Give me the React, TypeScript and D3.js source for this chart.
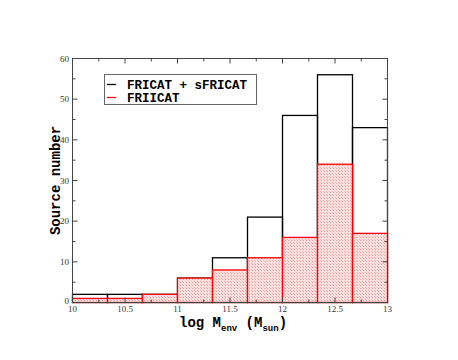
import * as d3 from "d3";

// bin edges (log M_env) and counts
const binEdges = [10, 10 + 1 / 3, 10 + 2 / 3, 11, 11 + 1 / 3, 11 + 2 / 3, 12, 12 + 1 / 3, 12 + 2 / 3, 13];
const fricatCounts = [2, 2, 2, 6, 11, 21, 46, 56, 43];
const friicatCounts = [1, 1, 2, 6, 8, 11, 16, 34, 17];
const xTicks = [10, 10.5, 11, 11.5, 12, 12.5, 13];
const yTicks = [0, 10, 20, 30, 40, 50, 60];
const legendNames = ["FRICAT + sFRICAT", "FRIICAT"];

const W = 458;
const H = 360;
const left = 72.5;
const right = 387.5;
const top = 58.5;
const bottom = 302.5;

export default function App() {
  const x = d3.scaleLinear().domain([10, 13]).range([left, right]);
  const y = d3.scaleLinear().domain([0, 60]).range([bottom, top]);

  const xMinor = d3.range(10, 13.001, 0.25);
  const yMinor = d3.range(0, 60.001, 5);

  const mono = "'Courier New', 'Liberation Mono', Courier, monospace";
  const serif = "'Liberation Serif', 'Times New Roman', serif";

  return (
    <svg width={W} height={H} style={{ position: "absolute", left: 0, top: 0, background: "#fff" }}>
      <defs>
        <pattern id="hatch" width="3" height="3" patternUnits="userSpaceOnUse">
          <rect width="3" height="3" fill="#fbe0e0" />
          <rect x="0" y="0" width="1" height="1" fill="#f19a9a" />
          <rect x="2" y="2" width="1" height="1" fill="#f5b3b3" />
        </pattern>
      </defs>

      {/* black histogram, outline only */}
      {fricatCounts.map((v, i) => (
        <rect
          key={"b" + i}
          x={x(binEdges[i])}
          y={y(v)}
          width={x(binEdges[i + 1]) - x(binEdges[i])}
          height={y(0) - y(v)}
          fill="none"
          stroke="#000"
          strokeWidth={1.3}
        />
      ))}

      {/* red histogram, hatched */}
      {friicatCounts.map((v, i) => (
        <rect
          key={"r" + i}
          x={x(binEdges[i])}
          y={y(v)}
          width={x(binEdges[i + 1]) - x(binEdges[i])}
          height={y(0) - y(v)}
          fill="url(#hatch)"
          stroke="#f00"
          strokeWidth={1.3}
        />
      ))}

      {/* frame */}
      <rect x={left} y={top} width={right - left} height={bottom - top} fill="none" stroke="#444" strokeWidth={1} />

      {/* x ticks */}
      {xMinor.map((t, i) => {
        const major = Math.abs(t * 2 - Math.round(t * 2)) < 1e-6;
        const len = major ? 5 : 3;
        return (
          <g key={"xt" + i} stroke="#444" strokeWidth={1}>
            <line x1={x(t)} x2={x(t)} y1={bottom} y2={bottom - len} />
            <line x1={x(t)} x2={x(t)} y1={top} y2={top + len} />
          </g>
        );
      })}
      {xTicks.map((t) => (
        <text key={"xl" + t} x={x(t)} y={bottom + 9.5} textAnchor="middle" fontFamily={serif} fontSize={9} fill="#333">
          {t}
        </text>
      ))}

      {/* y ticks */}
      {yMinor.map((t, i) => {
        const major = t % 10 === 0;
        const len = major ? 5 : 3;
        return (
          <g key={"yt" + i} stroke="#444" strokeWidth={1}>
            <line x1={left} x2={left + len} y1={y(t)} y2={y(t)} />
            <line x1={right} x2={right - len} y1={y(t)} y2={y(t)} />
          </g>
        );
      })}
      {yTicks.map((t) => (
        <text key={"yl" + t} x={left - 3.5} y={y(t) + (t === 0 ? 1.5 : 3)} textAnchor="end" fontFamily={serif} fontSize={9} fill="#333">
          {t}
        </text>
      ))}

      {/* axis titles */}
      <text
        transform={`translate(60,${(top + bottom) / 2}) rotate(-90)`}
        textAnchor="middle"
        fontFamily={mono}
        fontWeight="bold"
        fontSize={14}
        fill="#000"
      >
        Source number
      </text>
      <text x={179} y={327} fontFamily={mono} fontWeight="bold" fontSize={14} fill="#000">
        log M
        <tspan fontSize={9} dy={4}>env</tspan>
        <tspan dy={-4}>{"  (M"}</tspan>
        <tspan fontSize={9} dy={4}>sun</tspan>
        <tspan dy={-4}>)</tspan>
      </text>

      {/* legend */}
      <rect x={104.5} y={74.5} width={152} height={30} fill="#fff" stroke="#666" strokeWidth={1} />
      {legendNames.map((name, i) => (
        <g key={name}>
          <line x1={107} x2={116} y1={84.5 + i * 13} y2={84.5 + i * 13} stroke={i === 0 ? "#000" : "#f00"} strokeWidth={1.3} />
          <text x={127} y={88.5 + i * 13} fontFamily={mono} fontWeight="bold" fontSize={12.5} fill="#000">
            {name}
          </text>
        </g>
      ))}
    </svg>
  );
}
